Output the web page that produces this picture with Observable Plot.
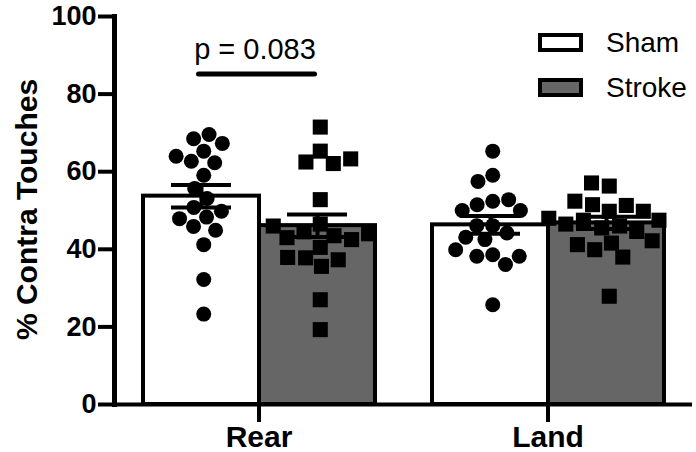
<!DOCTYPE html>
<html>
<head>
<meta charset="utf-8">
<script src="https://cdn.jsdelivr.net/npm/d3@7"></script>
<script src="https://cdn.jsdelivr.net/npm/@observablehq/plot@0.6"></script>
<style>
  body { margin: 0; background: #fff; }
  #wrap { position: relative; width: 696px; height: 452px; font-family: "Liberation Sans", Arial, sans-serif; }
  .sw { position: absolute; left: 538px; width: 45px; height: 19px; box-sizing: border-box; border: 4px solid #000; }
  .lt { position: absolute; left: 606px; font-size: 28px; line-height: 28px; color: #000; }
</style>
</head>
<body>
<div id="wrap"></div>
<script>
// ---- data ----
const tasks = ["Rear", "Land"];
const groups = ["Sham", "Stroke"];
const groupFills = ["#ffffff", "#666666"];
const yTicks = [0, 20, 40, 60, 80, 100];

const rearSham = [65.3, 68.5, 69.6, 67.3, 62.7, 62.3, 64.0, 59.1, 55.7, 53.1, 50.8, 48.3, 49.8, 45.9, 47.9, 44.9, 41.2, 32.2, 23.3];
const rearStroke = [71.5, 65.3, 62.5, 62.1, 63.3, 52.8, 46.5, 44.5, 43.5, 42.5, 43.0, 44.0, 46.0, 40.5, 37.8, 35.6, 37.3, 37.9, 27.0, 19.3];
const landSham = [65.3, 59.1, 57.5, 52.4, 51.5, 52.8, 50.0, 50.0, 46.1, 46.1, 44.2, 42.5, 43.1, 38.6, 38.2, 36.1, 38.2, 39.9, 25.7];
const landStroke = [56.3, 57.1, 49.8, 51.5, 51.3, 52.4, 49.8, 47.5, 46.0, 45.5, 46.5, 47.5, 48.0, 44.6, 41.6, 39.9, 38.0, 41.2, 42.2, 27.9];

const meanRear = [53.7, 46.1];
const semRear = [2.9, 2.9];
const meanLand = [46.3, 46.8];
const semLand = [2.3, 1.6];

const pText = "p = 0.083";
const yLabel = "% Contra Touches";

// ---- tables built from the arrays ----
const pointSets = {Rear: [rearSham, rearStroke], Land: [landSham, landStroke]};
const meanSets = {Rear: meanRear, Land: meanLand};
const semSets = {Rear: semRear, Land: semLand};

const rows = [];
const stats = [];
tasks.forEach(t => groups.forEach((g, j) => {
  pointSets[t][j].forEach(v => rows.push({task: t, group: g, value: v}));
  const m = meanSets[t][j], s = semSets[t][j];
  stats.push({task: t, group: g, mean: m, lo: m - s, hi: m + s, fill: groupFills[j]});
}));

const W = 696, H = 452;
const mL = 114, mR = 4, mT = 16, mB = 48;
const facetW = (W - mL - mR) / tasks.length;
const xPadOuter = 0.24;
const bandW = facetW / (groups.length + 2 * xPadOuter);
// dodgeX "middle" centres on the facet using the outer margins; shift back to each bar centre
const dodgeShift = (mL - mR) / 2;

const chart = Plot.plot({
  width: W,
  height: H,
  marginTop: mT,
  marginBottom: mB,
  marginLeft: mL,
  marginRight: mR,
  style: {fontFamily: "'Liberation Sans', Arial, sans-serif", color: "#000", background: "#fff"},
  fx: {domain: tasks, padding: 0, label: null, axis: null},
  x: {domain: groups, paddingInner: 0, paddingOuter: xPadOuter, axis: null},
  y: {domain: [0, 100], axis: null},
  marks: [
    Plot.barY(stats, {fx: "task", x: "group", y: "mean", fill: "fill", stroke: "#000", strokeWidth: 4}),
    Plot.ruleX(stats, {fx: "task", x: "group", y1: "lo", y2: "hi", stroke: "#000", strokeWidth: 4}),
    Plot.tickY(stats, {fx: "task", x: "group", y: "lo", stroke: "#000", strokeWidth: 4, insetLeft: 28, insetRight: 28}),
    Plot.tickY(stats, {fx: "task", x: "group", y: "hi", stroke: "#000", strokeWidth: 4, insetLeft: 28, insetRight: 28}),
    Plot.dot(rows.filter(d => d.group === groups[0]),
      Plot.dodgeX("middle", {fx: "task", y: "value", r: 7.5, padding: 7, fill: "#000", stroke: null, dx: -bandW / 2 - dodgeShift})),
    Plot.dot(rows.filter(d => d.group === groups[1]),
      Plot.dodgeX("middle", {fx: "task", y: "value", r: 8.5, padding: 4, symbol: "square", fill: "#000", stroke: null, dx: bandW / 2 - dodgeShift})),
    Plot.ruleY([0], {stroke: "#000", strokeWidth: 4}),
    Plot.frame({anchor: "left", facetAnchor: "left", stroke: "#000", strokeWidth: 5}),
    Plot.link([{task: tasks[0]}], {fx: "task", x1: () => groups[0], x2: () => groups[1], y1: () => 85.2, y2: () => 85.2,
      stroke: "#000", strokeWidth: 5, strokeLinecap: "round", dx: -3}),
    Plot.text([{task: tasks[0], label: pText}], {fx: "task", y: () => 91.5, text: "label", fontSize: 29, dx: -4, fill: "#000"}),
    Plot.axisY({ticks: yTicks, tickSize: 16, tickPadding: 2, fontSize: 27, fontWeight: "bold", strokeWidth: 4, label: null, fill: "#000"}),
    Plot.axisFx({anchor: "bottom", tickSize: 18, tickPadding: 3, fontSize: 30, fontWeight: "bold", strokeWidth: 4, label: null, fill: "#000"}),
    Plot.text([{task: tasks[0], label: yLabel}], {fx: "task", text: "label", frameAnchor: "left", textAnchor: "middle", lineAnchor: "middle",
      dx: -87, dy: -1, rotate: -90, fontSize: 30, fontWeight: "bold", fill: "#000"})
  ]
});

const wrap = document.getElementById("wrap");
wrap.appendChild(chart);

// legend overlaid at top right
const legendTops = [33, 78];
groups.forEach((g, j) => {
  const sw = document.createElement("div");
  sw.className = "sw";
  sw.style.top = legendTops[j] + "px";
  sw.style.background = groupFills[j];
  wrap.appendChild(sw);
  const lt = document.createElement("div");
  lt.className = "lt";
  lt.style.top = (legendTops[j] - 4) + "px";
  lt.textContent = g;
  wrap.appendChild(lt);
});
</script>
</body>
</html>
